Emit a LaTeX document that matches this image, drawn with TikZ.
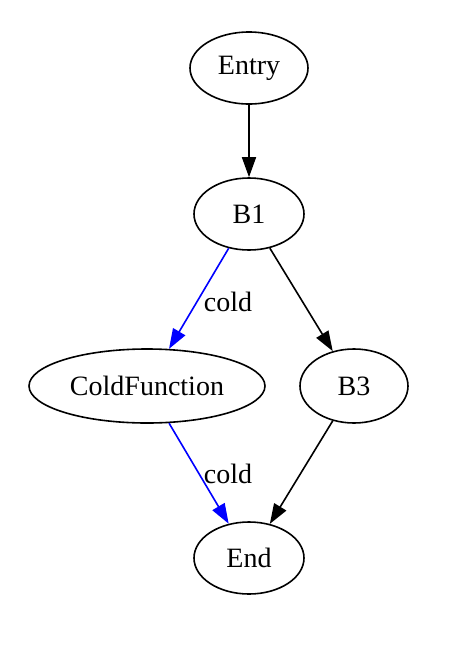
\documentclass[tikz,border=0pt]{standalone}
\usepackage{fontspec}
\setmainfont{Liberation Serif}
\usetikzlibrary{arrows.meta,shapes.geometric}
\begin{document}
\begin{tikzpicture}[x=0.5pt,y=-0.5pt,
  gnode/.style={draw, ellipse, line width=0.8pt, inner sep=0pt, minimum height=36pt, font=\fontsize{14}{16}\selectfont},
  lbl/.style={inner sep=0pt, font=\fontsize{14}{16}\selectfont},
  edge/.style={draw, line width=0.8pt, -{Triangle[length=10pt,width=7pt]}},
  coldedge/.style={edge, blue}]
\useasboundingbox (0,0) rectangle (472,654);
\node[gnode, minimum width=59pt] (entry) at (249,68) {Entry};
\node[gnode, minimum width=55pt] (b1) at (249,214) {B1};
\node[gnode, minimum width=118pt, minimum height=37pt] (cf) at (147,386) {ColdFunction};
\node[gnode, minimum width=54pt, minimum height=37pt] (b3) at (354,386) {B3};
\node[gnode, minimum width=55pt] (end) at (249,558) {End};
\node[lbl] (l1) at (228,302) {cold};
\node[lbl] (l2) at (228,474) {cold};
\draw[edge] (entry) -- (b1);
\draw[coldedge] (b1) -- (cf);
\draw[edge] (b1) -- (b3);
\draw[coldedge] (cf) -- (end);
\draw[edge] (b3) -- (end);
\end{tikzpicture}
\end{document}
